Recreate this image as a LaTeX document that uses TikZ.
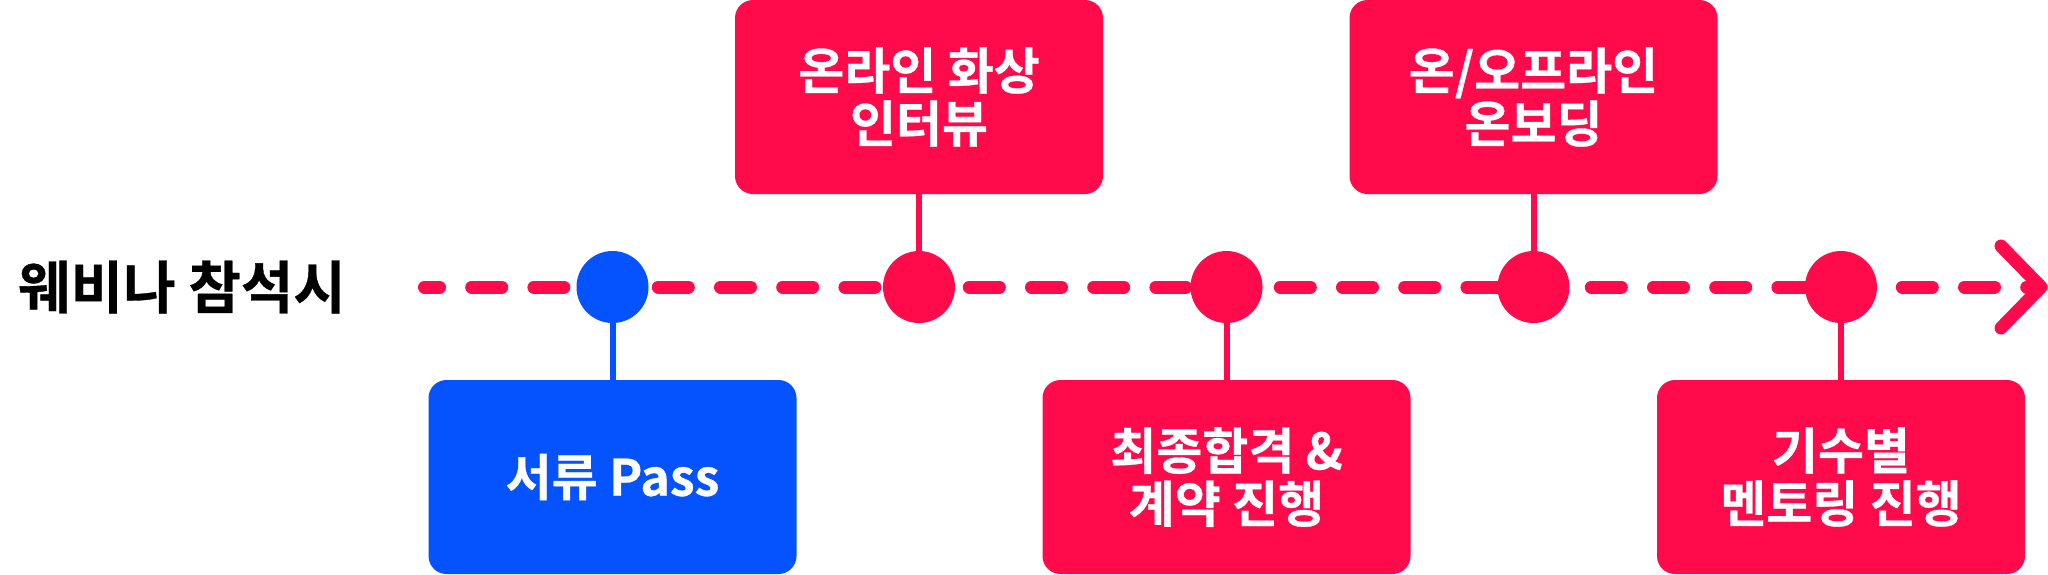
\documentclass[tikz,border=0pt]{standalone}
\usepackage{fontspec}
\newfontfamily\krb{Noto Sans CJK KR Bold}[FakeBold=0.6]
\usetikzlibrary{backgrounds}
\definecolor{tred}{RGB}{255,10,75}
\definecolor{tblue}{RGB}{5,82,255}
\begin{document}
\begin{tikzpicture}[x=1pt,y=-1pt,
  box/.style={rounded corners=18pt, minimum width=368pt, minimum height=194pt, inner sep=0pt,
    text=white, font=\krb\fontsize{50}{53}\selectfont, align=center},
  redbox/.style={box, fill=tred},
  bluebox/.style={box, fill=tblue},
  dot/.style={circle, minimum size=72pt, inner sep=0pt, fill=tred},
  bluedot/.style={dot, fill=tblue},
  conn/.style={line width=6pt, draw=tred},
  blueconn/.style={line width=6pt, draw=tblue},
  dashline/.style={line width=13pt, draw=tred, line cap=round, dash pattern=on 30pt off 32.2pt, dash phase=15pt},
  chev/.style={line width=13pt, draw=tred, line cap=round, line join=round},
  title/.style={font=\krb\fontsize{57}{60}\selectfont, text=black, inner sep=0pt}]
\useasboundingbox (0,0) rectangle (2048,574);

\node[title] (t) at (182,287) {웨비나 참석시};

\node[bluebox] (b1) at (612.5,477) {서류 Pass};
\node[redbox] (b2) at (919,97) {온라인 화상\\인터뷰};
\node[redbox] (b3) at (1226.5,477) {최종합격 \&\\계약 진행};
\node[redbox] (b4) at (1533.5,97) {온/오프라인\\온보딩};
\node[redbox] (b5) at (1841,477) {기수별\\멘토링 진행};

\node[bluedot] (c1) at (612.5,287) {};
\node[dot] (c2) at (919,287) {};
\node[dot] (c3) at (1226.5,287) {};
\node[dot] (c4) at (1533.5,287) {};
\node[dot] (c5) at (1841,287) {};

\coordinate (s) at (424.5,287);
\coordinate (e) at (2038,287);
\coordinate (tip) at (2041,287);
\coordinate (a1) at (2001,246);
\coordinate (a2) at (2001,328);

\begin{pgfonlayer}{background}
\fill[white] (0,0) rectangle (2048,574);
\draw[dashline] (s) -- (e);
\draw[blueconn] (b1) -- (c1);
\draw[conn] (b2) -- (c2);
\draw[conn] (b3) -- (c3);
\draw[conn] (b4) -- (c4);
\draw[conn] (b5) -- (c5);
\end{pgfonlayer}
\draw[chev] (a1) -- (tip) -- (a2);
\end{tikzpicture}
\end{document}
